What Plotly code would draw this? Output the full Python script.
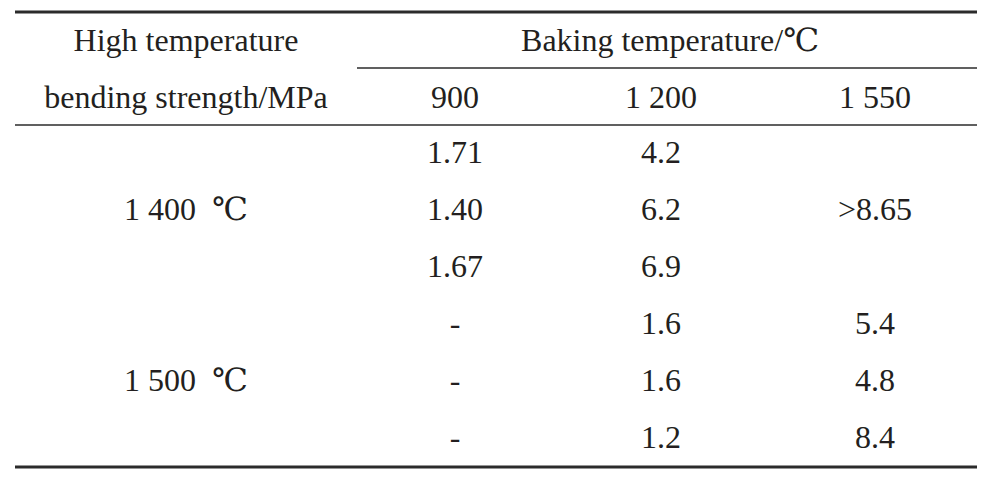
import plotly.graph_objects as go

# table contents
header_left = ["High temperature", "bending strength/MPa"]
header_group = "Baking temperature/℃"
baking_temps = ["900", "1 200", "1 550"]
test_temps = ["1 400  ℃", "1 500  ℃"]
strength_900 = ["1.71", "1.40", "1.67", "-", "-", "-"]
strength_1200 = ["4.2", "6.2", "6.9", "1.6", "1.6", "1.2"]
strength_1550 = ["", ">8.65", "", "5.4", "4.8", "8.4"]

# layout of the table (pixel-like data units)
col_x = [186, 455, 661, 875]
group_x = 670
header_y = [43, 100]
row_y = [155, 212, 269, 326, 383, 440]
left = 15
right = 977
sub_left = 357
rule_y = {"top": 12, "group": 68, "head": 125, "bottom": 467}
page_offset = 8  # body margin of the html page

font_family = "Liberation Serif, DejaVu Serif, serif"
ink = "#231f20"

xs, ys, txt = [], [], []

# header cells
for i, t in enumerate(header_left):
    xs.append(col_x[0]); ys.append(header_y[i]); txt.append(t)
xs.append(group_x); ys.append(header_y[0]); txt.append(header_group)
for j, t in enumerate(baking_temps):
    xs.append(col_x[j + 1]); ys.append(header_y[1]); txt.append(t)

# merged row labels: centred in their group of three rows
for g, t in enumerate(test_temps):
    xs.append(col_x[0]); ys.append(row_y[g * 3 + 1]); txt.append(t)

for j, col in enumerate([strength_900, strength_1200, strength_1550]):
    for i, v in enumerate(col):
        if v:
            xs.append(col_x[j + 1]); ys.append(row_y[i]); txt.append(v)

fig = go.Figure(go.Scatter(
    x=xs, y=ys, text=txt, mode="text",
    textposition="middle center",
    textfont=dict(family=font_family, size=32, color=ink),
    hoverinfo="skip",
))

def rule(x0, x1, y, w):
    fig.add_shape(type="line", x0=x0, x1=x1, y0=y, y1=y,
                  xref="x", yref="y", line=dict(color="#2b2b2b", width=w))

rule(left, right, rule_y["top"], 3)
rule(sub_left, right, rule_y["group"], 1.4)
rule(left, right, rule_y["head"], 1.4)
rule(left, right, rule_y["bottom"], 3)

fig.update_layout(
    width=999, height=487,
    margin=dict(l=0, r=0, t=0, b=0),
    paper_bgcolor="white", plot_bgcolor="white",
    showlegend=False,
    xaxis=dict(range=[page_offset, 999 + page_offset], visible=False, fixedrange=True),
    yaxis=dict(range=[487 + page_offset, page_offset], visible=False, fixedrange=True),
)

fig.write_html("out.html")
